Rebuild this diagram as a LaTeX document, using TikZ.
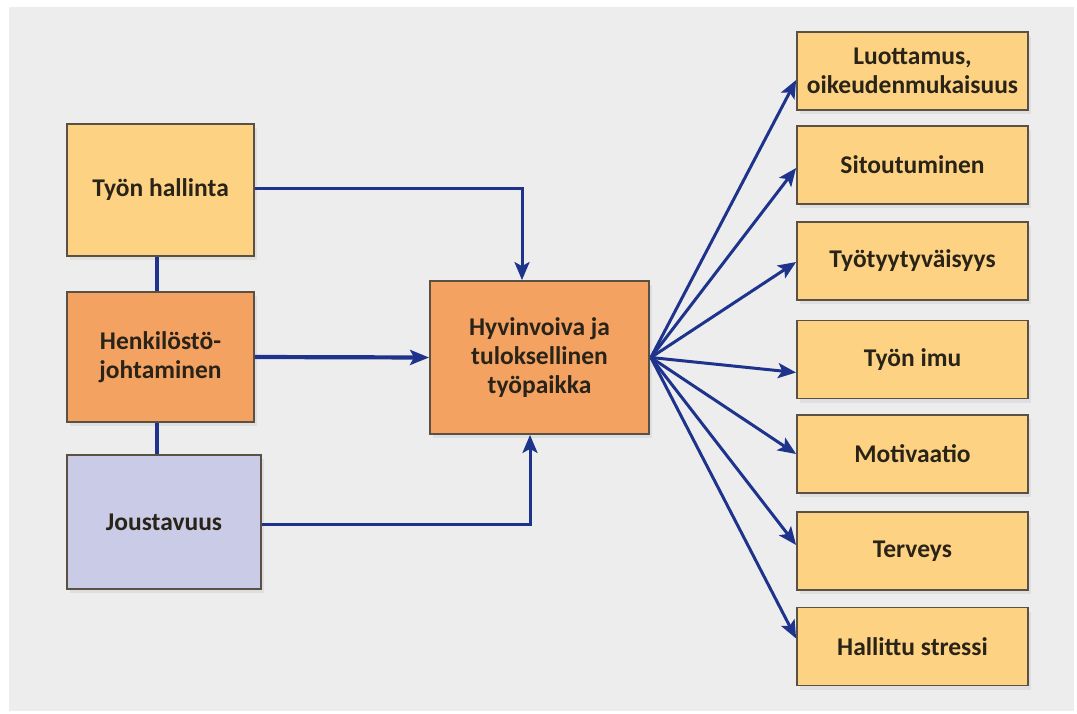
\documentclass[tikz,border=0pt]{standalone}
\usepackage{fontspec}
\setmainfont{Carlito}
\usetikzlibrary{arrows.meta,shadows,calc}
\definecolor{bgpanel}{HTML}{EDEDED}
\definecolor{lightorange}{HTML}{FDD283}
\definecolor{darkorange}{HTML}{F4A262}
\definecolor{lavender}{HTML}{C9CBE7}
\definecolor{boxline}{HTML}{5A5144}
\definecolor{navy}{HTML}{1E338C}
\definecolor{txt}{HTML}{2A2418}
\tikzset{
  box/.style={draw=boxline, line width=1.8pt, align=center, inner sep=0pt,
    font=\bfseries\fontsize{25.5}{29}\selectfont, text=txt,
    drop shadow={opacity=0.12, shadow xshift=3pt, shadow yshift=-4pt}},
  lbox/.style={box, fill=lightorange},
  dbox/.style={box, fill=darkorange},
  pbox/.style={box, fill=lavender},
  rbox/.style={lbox, minimum width=231pt, minimum height=78pt},
  link/.style={draw=navy, line width=4pt},
  arr/.style={draw=navy, line width=3pt, -{Stealth[length=18pt,width=15pt,inset=4pt]}},
  thickarr/.style={draw=navy, line width=4.2pt, -{Stealth[length=19pt,width=15pt,inset=4pt]}}
}
\begin{document}
\begin{tikzpicture}[x=1pt,y=-1pt]
\useasboundingbox (0,0) rectangle (1077,713);
\fill[white] (0,0) rectangle (1077,713);
\fill[bgpanel] (9,7) rectangle (1074,711);

% left column
\node[lbox, minimum width=187pt, minimum height=132pt] (th) at (160.5,190) {Työn hallinta};
\node[dbox, minimum width=187pt, minimum height=130pt] (hj) at (160.5,357) {Henkilöstö-\\johtaminen};
\node[pbox, minimum width=194pt, minimum height=134pt] (jo) at (164,522) {Joustavuus};

% centre
\node[dbox, minimum width=219pt, minimum height=153pt] (hv) at (539.5,357.5) {Hyvinvoiva ja\\tuloksellinen\\työpaikka};

% right column
\node[rbox] (r1) at (912.5,71)  {Luottamus,\\oikeudenmukaisuus};
\node[rbox] (r2) at (912.5,165) {Sitoutuminen};
\node[rbox] (r3) at (912.5,261) {Työtyytyväisyys};
\node[rbox] (r4) at (912.5,359.5) {Työn imu};
\node[rbox] (r5) at (912.5,454) {Motivaatio};
\node[rbox] (r6) at (912.5,551) {Terveys};
\node[rbox] (r7) at (912.5,646.5) {Hallittu stressi};

% vertical links between left boxes
\draw[link] ([xshift=-3.5pt]th.south) -- ([xshift=-3.5pt]hj.north);
\draw[link] ([xshift=-3.5pt]hj.south) -- ([xshift=-3.5pt]hj.south |- jo.north);

% inputs to centre
\draw[arr] ([yshift=2pt]th.east) -| ([xshift=-17.5pt]hv.north);
\draw[thickarr] (hj.east) -- (hv.west);
\draw[arr] ([yshift=-2pt]jo.east) -| ([xshift=-9.5pt]hv.south);

% fan to outcomes
\draw[arr] ([xshift=1pt]hv.east) -- ([yshift=-9pt]r1.west);
\draw[arr] ([xshift=1pt]hv.east) -- ([yshift=-3pt]r2.west);
\draw[arr] ([xshift=1pt]hv.east) -- ([yshift=-1pt]r3.west);
\draw[arr] ([xshift=1pt]hv.east) -- ([yshift=-13pt]r4.west);
\draw[arr] ([xshift=1pt]hv.east) -- ([yshift=0pt]r5.west);
\draw[arr] ([xshift=1pt]hv.east) -- ([yshift=6pt]r6.west);
\draw[arr] ([xshift=1pt]hv.east) -- ([yshift=8pt]r7.west);
\end{tikzpicture}
\end{document}
